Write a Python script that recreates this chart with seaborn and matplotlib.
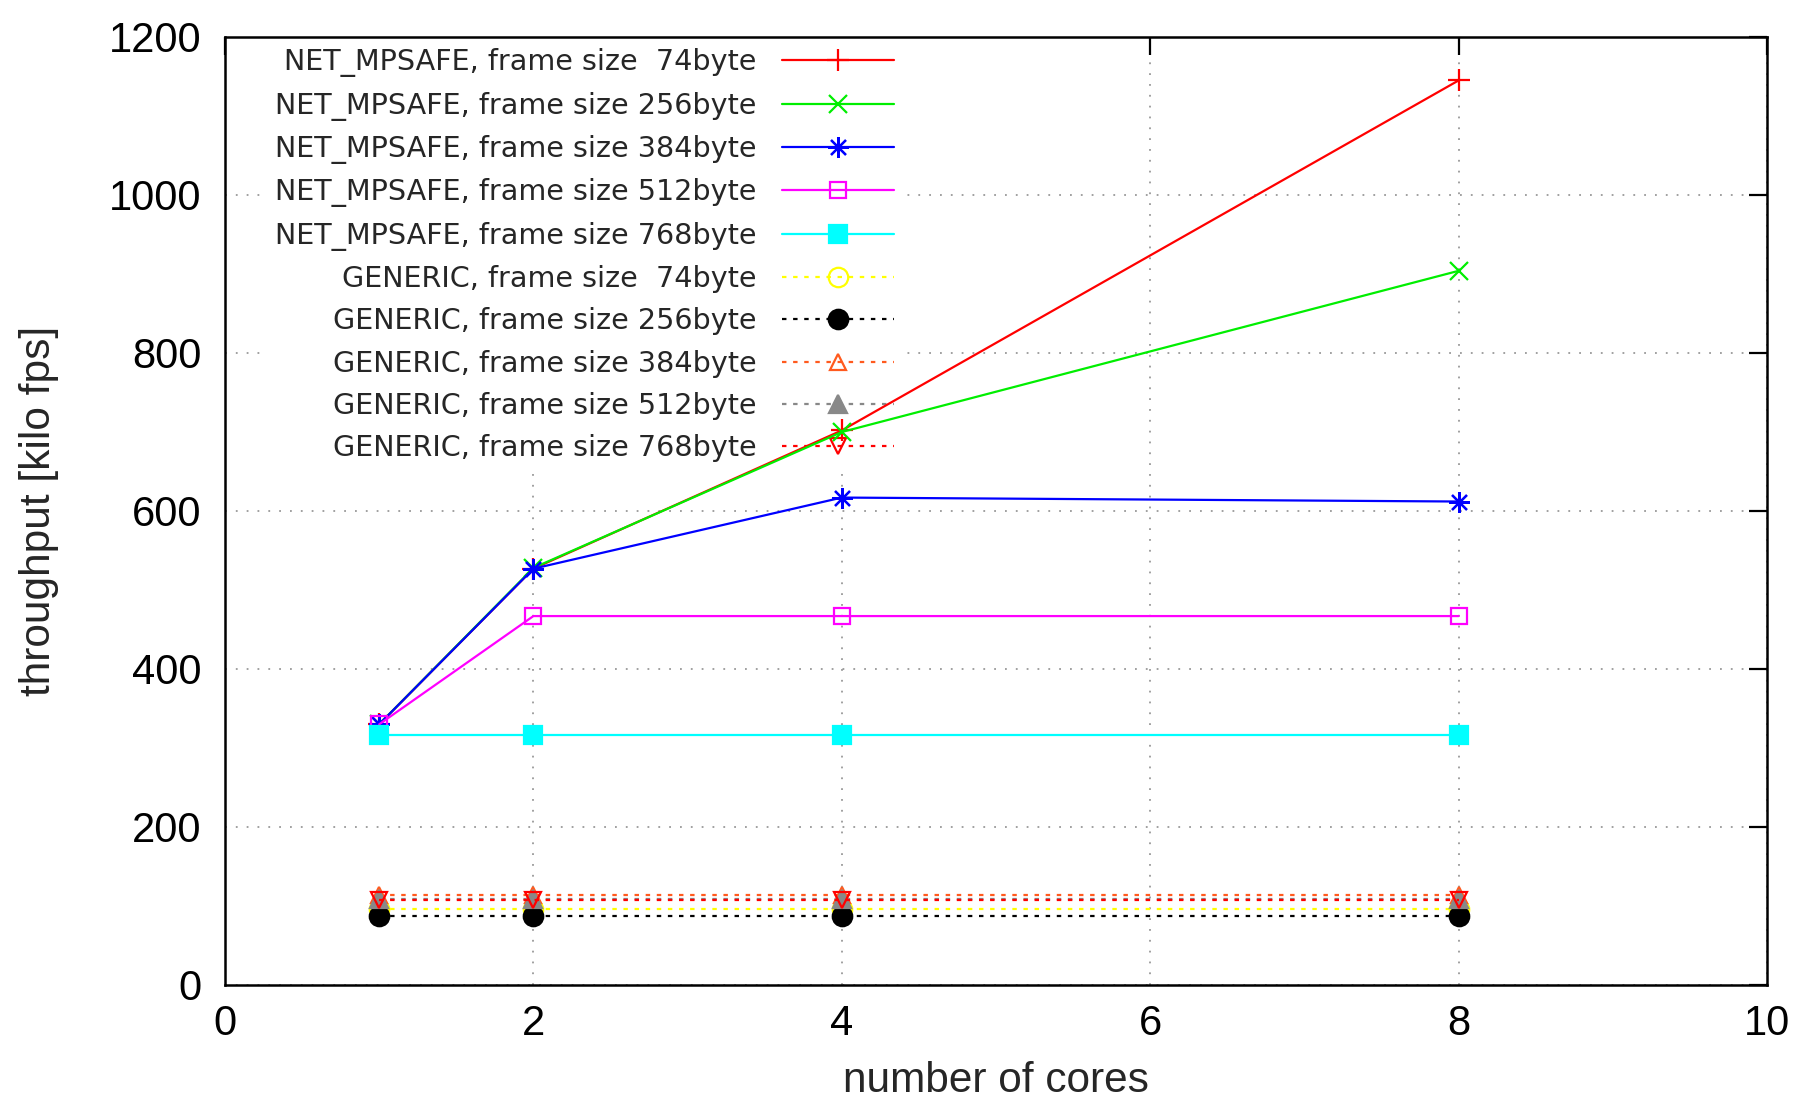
import matplotlib
matplotlib.use("Agg")
import matplotlib.pyplot as plt
import seaborn as sns
import pandas as pd

cores = [1, 2, 4, 8]

series_labels = [
    "NET_MPSAFE, frame size  74byte",
    "NET_MPSAFE, frame size 256byte",
    "NET_MPSAFE, frame size 384byte",
    "NET_MPSAFE, frame size 512byte",
    "NET_MPSAFE, frame size 768byte",
    "GENERIC, frame size  74byte",
    "GENERIC, frame size 256byte",
    "GENERIC, frame size 384byte",
    "GENERIC, frame size 512byte",
    "GENERIC, frame size 768byte",
]

net_74 = [330, 527, 702, 1145]
net_256 = [330, 528, 700, 904]
net_384 = [330, 527, 617, 612]
net_512 = [330, 467, 467, 467]
net_768 = [316, 316, 316, 316]
gen_74 = [96, 96, 96, 96]
gen_256 = [87, 87, 87, 87]
gen_384 = [114, 114, 114, 114]
gen_512 = [109, 109, 109, 109]
gen_768 = [107, 107, 107, 107]

values = [net_74, net_256, net_384, net_512, net_768,
          gen_74, gen_256, gen_384, gen_512, gen_768]

colors = ["#ff0000", "#00ee00", "#0000ff", "#ff00ff", "#00ffff",
          "#ffff00", "#000000", "#ff5a1e", "#888888", "#ff0000"]
markers = ["+", "x", (8, 2, 0), "s", "s", "o", "o", "^", "^", "v"]
filled = [True, True, True, False, True, False, True, False, True, False]
msizes = [16, 13, 15, 12, 13, 14, 14, 12, 13, 12]
styles = ["-"] * 5 + [(0, (2, 3))] * 5

sns.set_style("white")
plt.rcParams["font.family"] = ["Liberation Sans", "DejaVu Sans"]

fig = plt.figure(figsize=(17.96, 11.03), dpi=100)
ax = fig.add_axes([225 / 1796, 1 - 985 / 1103, 1542 / 1796, 948 / 1103])

for lab, vals, c, m, f, ms, ls in zip(series_labels, values, colors, markers,
                                      filled, msizes, styles):
    df = pd.DataFrame({"cores": cores, "thr": vals})
    sns.lineplot(data=df, x="cores", y="thr", ax=ax, color=c, marker=m,
                 markersize=ms, markeredgecolor=c,
                 markerfacecolor=(c if f else "none"),
                 markeredgewidth=1.6, linestyle=ls, linewidth=1.6,
                 label=lab, zorder=3)

ax.set_xlim(0, 10)
ax.set_ylim(0, 1200)
ax.set_xticks(range(0, 11, 2))
ax.set_yticks(range(0, 1201, 200))
ax.set_axisbelow(True)
ax.grid(True, color="#999999", linestyle=(0, (1, 5)), linewidth=1.3)
for sp in ax.spines.values():
    sp.set_visible(True)
    sp.set_color("black")
    sp.set_linewidth(1.8)
ax.tick_params(direction="in", length=13, width=1.6, top=True, right=True,
               labelsize=30, colors="black")
ax.tick_params(axis="y", pad=17)
ax.tick_params(axis="x", pad=14)
ax.set_xlabel("number of cores", fontsize=30.5, labelpad=12)
ax.set_ylabel("throughput [kilo fps]", fontsize=30.5, labelpad=36)

leg = ax.legend(loc="upper right", bbox_to_anchor=((905 - 225) / 1542, 1.0),
                markerfirst=False, frameon=True, fancybox=False,
                edgecolor="none", facecolor="white", framealpha=1,
                borderpad=0.4, borderaxespad=0, handlelength=3.9,
                handletextpad=0.88, labelspacing=0.5,
                prop={"family": "DejaVu Sans", "size": 20.6})
leg.set_zorder(1)

fig.savefig("out.png", dpi=100)
